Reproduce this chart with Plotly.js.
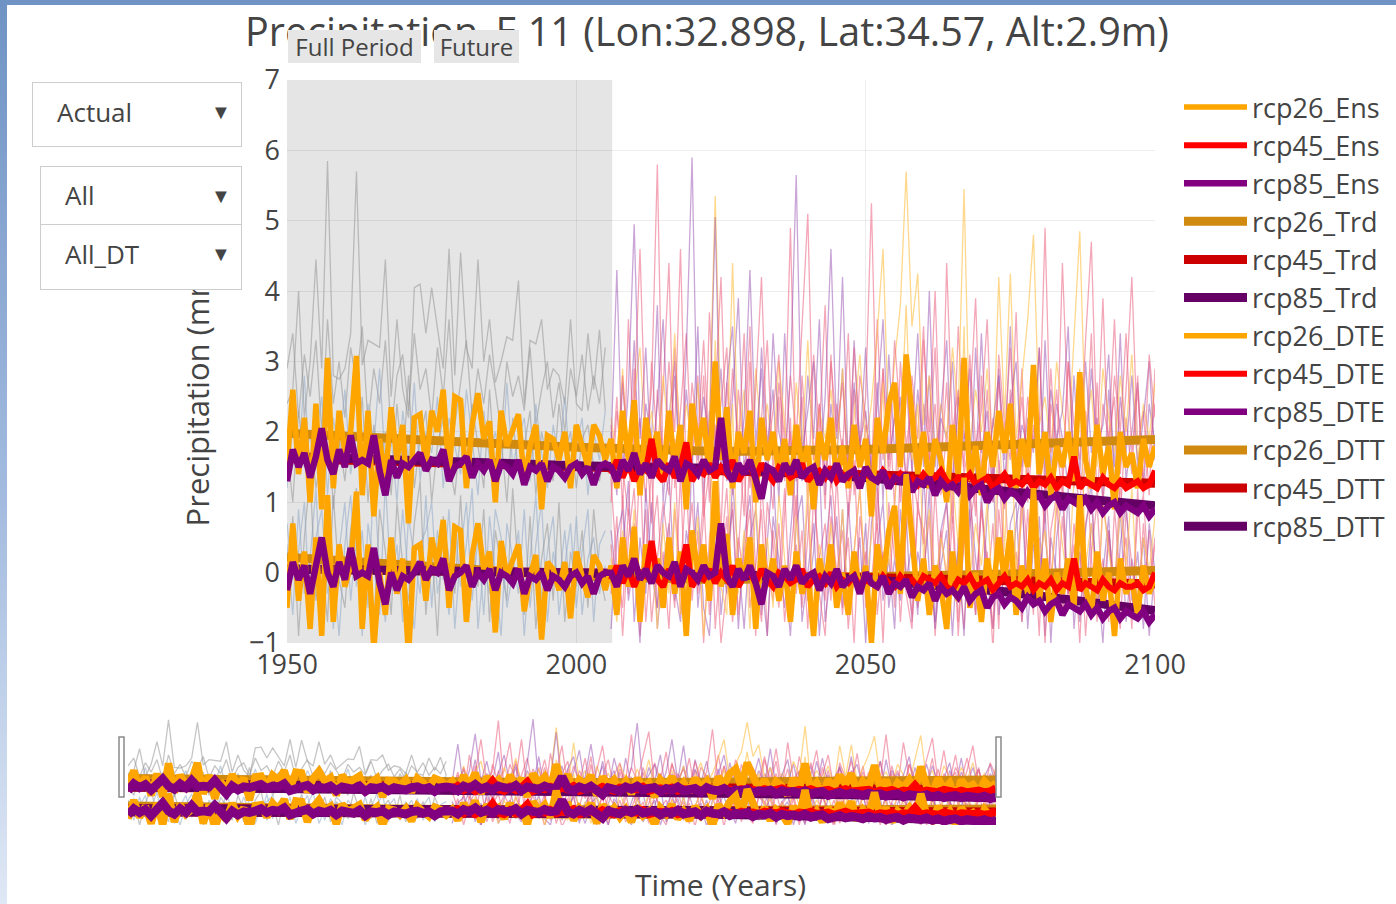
<!DOCTYPE html>
<html><head><meta charset="utf-8">
<script src="https://cdn.plot.ly/plotly-3.0.1.min.js"></script>
<style>
html,body{margin:0;padding:0;width:1396px;height:904px;overflow:hidden;}
body{background:linear-gradient(to bottom,#6f93c4 0%,#a3bbdf 55%,#dfe8f5 100%);position:relative;}
#chart{position:absolute;left:7px;top:5px;width:1405px;height:899px;background:#fff;}
</style></head><body><div id="chart"></div>
<script>
// ---------- years ----------
function seq(a,b){const r=[];for(let v=a;v<=b;v++)r.push(v);return r;}
const yearsHist = seq(1950, 2005);
const yearsFut  = seq(2006, 2100);
const yearsAll  = yearsHist.concat(yearsFut);
const trendYears = [1950, 1975, 2000, 2025, 2050, 2075, 2100];

// ---------- thick ensemble series (upper, actual) ----------
const ens26Hist = [1.5,2.6,1.4,2.2,1.0,2.4,0.9,3.05,1.2,2.3, 1.7,2.0,3.08,1.1,2.3,0.8,1.9,1.3,2.35,1.6,
  2.1,0.7,2.2,2.25,1.5,2.3,2.0,2.6,1.4,2.5, 2.45,1.2,2.1,2.55,1.9,2.15,1.0,2.3,1.8,2.0,
  2.25,1.3,1.8,2.1,0.9,1.95,1.9,1.6,2.0,1.2, 2.1,1.8,1.5,2.1,1.95,1.6];
const ens26Fut = [1.9,1.2,2.3,1.6,2.45,1.1,2.2,1.7,2.0,1.3, 2.3,1.5,2.1,0.9,2.4,1.8,2.2,1.4,3.0,1.6,
  2.35,1.2,2.0,1.7,2.3,1.0,2.2,1.6,2.0,1.4, 1.9,1.1,2.1,1.5,1.8,0.9,2.0,1.6,2.2,1.3,
  1.8,1.2,2.1,1.5,1.9,0.8,2.2,1.7,2.4,2.7, 1.5,3.1,2.3,1.4,2.0,1.2,1.9,1.6,1.0,2.1,
  1.4,3.05,1.3,1.8,1.1,2.0,1.5,2.3,1.7,2.4, 1.2,1.9,1.5,2.95,1.4,2.0,1.1,1.8,1.5,2.0,
  1.3,2.85,1.6,1.2,2.1,1.4,1.8,0.9,2.0,1.5, 1.7,1.2,1.9,1.5,1.8];
const ens45Fut = [1.4,1.6,1.35,1.55,1.3,1.5,1.45,1.9,1.4,1.3, 1.55,1.35,1.5,1.85,1.3,1.45,1.4,1.55,1.35,1.5,
  1.4,1.6,1.3,1.45,1.5,1.35,1.55,1.4,1.3,1.5, 1.45,1.35,1.4,1.55,1.3,1.4,1.45,1.35,1.5,1.3,
  1.4,1.35,1.45,1.3,1.4,1.35,1.3,1.45,1.35,1.3, 1.4,1.3,1.35,1.25,1.4,1.3,1.35,1.45,1.3,1.25,
  1.35,1.3,1.4,1.25,1.3,1.35,1.2,1.3,1.4,1.25, 1.3,1.25,1.35,1.2,1.3,1.25,1.35,1.2,1.3,1.25,
  1.65,1.2,1.3,1.25,1.2,1.35,1.25,1.2,1.3,1.2, 1.25,1.3,1.2,1.25,1.45];
const ens85Hist = [1.3,1.75,1.5,1.7,1.35,1.65,2.05,1.6,1.4,1.75, 1.5,1.95,1.55,1.6,1.55,1.95,1.45,1.1,1.6,1.35,
  1.55,1.5,1.6,1.7,1.45,1.6,1.55,1.75,1.3,1.5, 1.55,1.65,1.35,1.55,1.45,1.6,1.3,1.55,1.5,1.4,
  1.6,1.25,1.5,1.45,1.55,1.3,1.5,1.45,1.35,1.5, 1.55,1.4,1.5,1.25,1.5,1.55];
const ens85Fut = [1.5,1.3,1.6,1.45,1.7,1.4,1.55,1.35,1.6,1.5, 1.45,1.65,1.3,1.55,1.5,1.4,1.6,1.45,1.5,2.2,
  1.45,1.3,1.55,1.4,1.6,1.35,1.05,1.5,1.45,1.3, 1.55,1.4,1.6,1.35,1.45,1.5,1.25,1.45,1.35,1.55,
  1.3,1.4,1.45,1.2,1.5,1.35,1.3,1.45,1.2,1.35, 1.3,1.4,1.15,1.3,1.25,1.35,1.1,1.3,1.2,1.25,
  1.15,1.3,1.1,1.2,1.25,1.0,1.15,1.2,1.05,1.15, 1.1,1.0,1.15,1.05,1.1,0.95,1.05,1.1,0.9,1.05,
  1.0,0.95,1.05,0.9,1.0,0.85,0.95,1.0,0.85,0.95, 0.9,0.85,0.95,0.8,0.9];

// ---------- trends ----------
const trd26 = [1.98, 1.87, 1.78, 1.72, 1.75, 1.82, 1.89];
const trd45 = [1.62, 1.57, 1.52, 1.47, 1.39, 1.33, 1.27];
const trd85 = [1.65, 1.58, 1.52, 1.48, 1.35, 1.15, 0.95];
const dtt26 = [0.22, 0.08, -0.05, -0.10, -0.07, -0.02, 0.03];
const dtt45 = [0.05, 0.03, 0.00, -0.03, -0.07, -0.11, -0.16];
const dtt85 = [0.05, 0.03, 0.00, -0.03, -0.09, -0.28, -0.54];

// ---------- detrended ensemble series (lower) ----------
const dte26Hist = [-0.5,0.7,-0.4,0.3,-0.8,0.5,-0.9,1.1,-0.7,0.4, -0.2,0.1,1.15,-0.8,0.4,-1.1,0.0,-0.6,0.5,-0.3,
  0.2,-1.2,0.35,0.4,-0.4,0.5,0.1,0.75,-0.5,0.65, 0.6,-0.7,0.25,0.7,0.05,0.3,-0.85,0.45,-0.05,0.15,
  0.4,-0.55,-0.05,0.25,-0.95,0.15,0.05,-0.25,0.15,-0.65, 0.3,-0.05,-0.35,0.25,0.1,-0.25];
const dte26Fut = [0.1,-0.6,0.5,-0.2,0.65,-0.7,0.4,-0.1,0.2,-0.5, 0.5,-0.3,0.3,-0.9,0.6,0.0,0.4,-0.4,1.3,-0.2,
  0.55,-0.6,0.2,-0.1,0.5,-0.8,0.4,-0.2,0.2,-0.4, 0.1,-0.7,0.3,-0.3,0.0,-0.9,0.2,-0.2,0.4,-0.5,
  0.0,-0.6,0.3,-0.3,0.1,-1.0,0.4,-0.1,0.6,0.95, -0.3,1.4,0.5,-0.4,0.2,-0.6,0.1,-0.2,-0.8,0.3,
  -0.4,1.35,-0.5,0.0,-0.7,0.2,-0.3,0.5,-0.1,0.6, -0.6,0.1,-0.3,1.2,-0.4,0.2,-0.7,0.0,-0.3,0.2,
  -0.5,1.1,-0.2,-0.6,0.3,-0.4,0.0,-0.9,0.2,-0.3, -0.1,-0.6,0.1,-0.3,-0.05];
const dte45Fut = [-0.1,0.1,-0.15,0.05,-0.2,0.0,-0.05,0.45,-0.1,-0.2, 0.05,-0.15,0.0,0.4,-0.2,-0.05,-0.1,0.05,-0.15,0.0,
  -0.1,0.1,-0.2,-0.05,0.0,-0.15,0.05,-0.1,-0.2,0.0, -0.05,-0.15,-0.1,0.05,-0.2,-0.1,-0.05,-0.15,0.0,-0.2,
  -0.1,-0.15,-0.05,-0.2,-0.1,-0.15,-0.2,-0.05,-0.15,-0.2, -0.05,-0.15,-0.1,-0.2,-0.05,-0.1,-0.15,-0.05,-0.2,-0.25,
  -0.1,-0.15,-0.05,-0.2,-0.15,-0.1,-0.25,-0.15,-0.05,-0.2, -0.15,-0.2,-0.1,-0.25,-0.15,-0.2,-0.1,-0.25,-0.15,-0.2,
  0.2,-0.25,-0.15,-0.2,-0.25,-0.1,-0.2,-0.25,-0.15,-0.2, -0.2,-0.15,-0.25,-0.2,0.0];
const dte85Hist = [-0.25,0.15,-0.1,0.1,-0.3,0.05,0.5,0.0,-0.2,0.15, -0.1,0.35,-0.05,0.0,-0.05,0.35,-0.15,-0.45,0.0,-0.25,
  -0.05,-0.1,0.0,0.15,-0.1,0.05,0.0,0.2,-0.25,-0.05, 0.0,0.1,-0.2,0.0,-0.1,0.05,-0.25,0.0,-0.05,-0.15,
  0.05,-0.3,-0.05,-0.1,0.0,-0.25,-0.05,-0.1,-0.2,-0.05, 0.0,-0.15,-0.05,-0.3,-0.05,0.0];
const dte85Fut = [0.0,-0.2,0.1,-0.05,0.2,-0.1,0.05,-0.15,0.1,0.0, -0.05,0.15,-0.2,0.05,0.0,-0.1,0.1,-0.05,0.0,0.7,
  -0.05,-0.2,0.05,-0.1,0.1,-0.15,-0.45,0.0,-0.05,-0.2, 0.05,-0.1,0.1,-0.15,-0.05,0.0,-0.25,-0.05,-0.15,0.05,
  -0.2,-0.1,-0.05,-0.3,0.0,-0.15,-0.2,-0.05,-0.3,-0.15, -0.2,-0.1,-0.35,-0.2,-0.25,-0.15,-0.4,-0.2,-0.3,-0.25,
  -0.35,-0.2,-0.4,-0.3,-0.25,-0.5,-0.35,-0.3,-0.45,-0.35, -0.4,-0.5,-0.35,-0.45,-0.4,-0.55,-0.45,-0.4,-0.6,-0.45,
  -0.5,-0.55,-0.45,-0.6,-0.5,-0.65,-0.55,-0.5,-0.65,-0.55, -0.6,-0.65,-0.55,-0.7,-0.6];

// ---------- thin model runs, historical ----------
const histRunA = [2.4,2.6,4.0,2.2,3.0,4.45,2.9,5.85,2.8,2.75, 2.9,3.4,5.7,2.95,3.3,3.25,3.2,4.45,2.5,3.6,
  2.6,2.2,4.05,4.1,3.4,4.05,3.5,2.9,4.6,2.8, 4.55,3.2,2.9,4.45,3.0,3.6,2.7,3.0,3.35,3.3,
  4.15,2.4,3.3,3.25,3.6,2.6,2.9,2.8,2.4,3.6, 2.4,2.3,3.4,2.6,3.45,2.3];
const histRunB = [1.2,2.1,1.6,2.8,1.3,1.9,2.5,1.1,2.2,1.7, 2.6,1.4,2.0,1.2,2.4,1.8,2.9,1.5,1.9,1.0,
  2.3,1.6,2.7,1.3,2.0,1.7,2.5,1.2,2.2,1.8, 1.4,2.6,1.9,1.1,2.3,1.6,2.0,1.4,2.7,1.5,
  1.9,2.2,1.3,2.4,1.7,1.2,2.1,1.6,2.5,1.4, 1.8,2.2,1.1,2.0,1.6,2.3];
const histRunC = [1.8,1.0,2.3,1.5,2.0,1.2,1.7,2.6,0.9,1.9, 1.3,2.2,1.6,2.5,1.0,2.1,1.4,2.0,1.1,2.4,
  1.5,2.8,1.2,1.9,2.3,1.0,1.8,2.2,1.6,1.1, 2.0,1.5,2.4,1.8,1.2,2.6,1.4,1.9,1.0,2.2,
  1.4,1.8,2.3,1.1,2.0,1.6,1.3,2.4,1.7,2.0, 1.2,1.9,2.1,1.5,1.3,1.8];
const histRunD = [2.9,3.4,2.2,3.1,2.5,3.3,2.0,3.6,2.4,3.0, 2.2,3.2,2.7,3.5,2.1,2.9,2.4,3.3,2.0,2.8,
  3.1,2.3,3.4,2.6,2.9,2.2,3.2,2.5,3.6,2.1, 2.7,3.3,2.2,2.9,2.4,3.1,2.6,2.0,3.0,2.5,
  2.8,2.3,3.2,2.1,2.6,3.0,2.2,2.7,2.0,2.9, 2.5,3.1,2.3,2.8,2.4,3.2];
const histDtA = [0.4,-0.6,0.9,-0.3,0.2,1.2,-0.5,0.6,-0.8,0.3, 1.0,-0.4,0.5,-0.9,0.7,0.1,-0.6,1.3,-0.2,0.4,
  -0.7,0.8,0.2,-0.3,1.1,-0.5,0.6,-0.1,0.9,-0.8, 0.3,1.0,-0.4,0.5,-0.6,0.8,0.0,-0.9,0.7,0.2,
  -0.3,0.9,-0.5,0.4,1.0,-0.7,0.3,-0.2,0.6,-0.4, 0.8,-0.6,0.2,0.5,-0.3,0.1];
const histDtB = [-0.2,0.8,-0.9,0.5,1.4,-0.4,0.2,-0.7,1.1,-0.1, -0.5,0.6,1.2,-0.3,0.0,-0.8,0.9,0.3,-0.6,1.0,
  0.1,-0.4,0.7,1.3,-0.6,0.4,-0.9,0.8,0.2,-0.3, 1.1,-0.5,0.3,-0.2,0.9,-0.7,0.6,0.1,-0.4,1.2,
  0.0,-0.6,0.8,-0.8,0.2,0.7,-0.4,1.0,-0.7,0.3, -0.2,0.6,-0.5,0.9,0.0,-0.4];
const histDtC = [0.7,-0.1,0.3,1.0,-0.6,0.5,0.9,-0.3,0.1,-0.9, 0.4,1.1,-0.2,0.6,-0.5,1.4,0.0,-0.7,0.5,-0.2,
  0.9,-0.1,-0.8,0.4,0.6,1.0,-0.3,0.2,-0.6,0.7, -0.2,0.4,1.2,-0.8,0.1,-0.3,0.9,0.5,-0.5,0.0,
  0.6,-0.9,0.2,1.1,-0.4,0.3,0.8,-0.6,0.1,0.7, -0.5,0.3,0.9,-0.7,0.4,0.6];

// ---------- thin model runs, future ----------
const run45A = [2.1,1.2,2.8,1.5,2.4,4.6,1.8,2.6,5.8,1.4, 3.0,2.0,4.6,1.3,2.7,1.9,3.3,1.6,2.5,4.2,
  1.5,2.9,1.8,3.4,1.2,2.6,4.2,1.7,2.3,3.1, 1.4,2.8,1.9,3.6,5.1,1.6,2.4,1.3,3.0,2.0,
  2.7,1.4,3.2,1.8,2.5,5.25,1.7,2.9,1.5,3.3, 2.2,1.3,2.8,1.9,3.5,1.6,2.4,1.2,4.4,2.0,
  2.6,1.5,3.1,1.8,2.3,3.6,1.4,2.7,1.9,3.2, 1.6,2.5,1.3,2.9,2.0,4.9,1.7,2.6,1.4,3.0,
  2.1,1.6,3.3,4.7,1.8,3.9,1.5,2.8,2.0,3.4, 1.7,2.6,1.3,3.1,2.2];
const run45B = [1.3,2.5,0.9,3.6,1.6,2.2,1.0,3.0,1.8,2.6, 4.4,1.2,2.3,3.4,1.5,2.8,0.8,3.7,1.9,2.4,
  3.2,1.1,2.6,1.7,3.5,0.9,2.2,3.3,1.4,2.7, 1.9,4.9,1.3,2.5,1.0,3.1,2.0,3.8,1.2,2.4,
  1.7,3.4,1.1,2.8,2.2,1.4,3.6,1.6,2.5,0.9, 3.0,1.8,2.4,1.2,3.3,2.0,4.0,1.5,2.7,1.1,
  3.5,1.9,2.3,3.9,1.4,2.6,1.0,3.1,2.1,1.6, 3.7,1.3,2.5,1.8,3.2,1.1,2.9,1.5,4.4,2.2,
  1.2,2.8,1.7,3.4,1.0,2.4,1.9,3.6,1.4,2.6, 4.2,1.8,2.3,1.1,2.9];
const run85A = [1.8,4.3,1.4,2.6,4.95,1.9,3.2,1.5,2.4,3.6, 1.7,2.8,1.3,3.1,5.9,1.6,2.5,1.9,5.05,1.4,
  2.7,3.5,1.5,2.2,4.3,1.8,2.9,1.3,3.4,2.0, 1.6,2.8,5.65,1.7,2.3,3.0,1.4,2.5,4.6,1.9,
  4.2,1.5,2.7,1.8,3.2,1.3,2.4,3.6,1.6,2.2, 1.9,3.1,1.4,2.6,1.7,4.0,1.5,2.3,3.3,1.2,
  2.5,1.8,2.9,1.4,3.4,1.6,2.1,2.8,1.3,2.4, 3.0,1.5,2.2,1.7,3.2,1.4,2.6,1.9,2.3,3.5,
  1.3,2.4,1.6,2.9,1.8,2.1,3.1,1.2,2.5,1.7, 2.8,1.5,2.2,3.0,1.6];
const run85B = [2.0,1.1,2.7,1.6,3.3,1.2,2.4,1.9,3.8,1.0, 2.2,3.0,1.4,2.6,1.7,3.5,1.1,2.3,1.8,2.9,
  1.3,2.5,3.9,1.5,2.0,1.2,3.2,1.8,2.6,1.0, 3.4,1.7,2.1,1.3,2.8,1.9,3.6,1.1,2.4,1.6,
  2.9,1.2,3.3,1.8,2.3,1.4,2.7,1.0,3.1,1.7, 2.5,1.3,2.0,3.4,1.5,2.8,1.1,2.2,1.9,3.0,
  1.4,2.6,1.2,3.2,1.7,2.3,1.0,2.9,1.6,3.5, 1.3,2.1,1.8,2.7,1.1,3.3,1.5,2.4,1.9,1.2,
  2.8,1.4,3.0,1.7,2.2,1.0,2.6,1.5,3.4,1.3, 2.0,2.7,1.2,2.4,1.8];
const run85C = [1.0,2.3,1.5,0.8,2.9,1.3,2.0,0.7,2.6,1.6, 1.1,3.2,1.8,0.9,2.4,1.4,2.8,1.0,2.1,0.6,
  2.7,1.5,1.9,0.8,3.0,1.2,2.2,1.7,0.9,2.5, 1.3,2.0,0.7,2.8,1.6,1.1,2.4,0.9,3.1,1.4,
  1.9,0.8,2.6,1.2,2.1,1.7,0.6,2.9,1.3,2.3, 1.0,2.7,1.5,0.9,2.4,1.8,3.2,1.1,2.0,0.7,
  2.5,1.4,1.9,0.8,2.8,1.2,2.2,1.6,0.9,2.6, 1.3,2.9,1.0,2.1,1.5,0.7,2.4,1.8,1.1,3.0,
  1.6,0.9,2.3,1.2,2.7,1.0,1.9,2.5,0.8,2.2, 1.4,2.8,1.1,1.7,2.4];
const run26A = [2.2,1.6,2.9,1.4,2.5,3.2,1.7,2.3,1.5,2.8, 1.9,3.4,1.6,2.4,1.8,2.7,1.4,2.2,5.35,2.0,
  1.5,4.4,1.8,2.6,1.3,2.9,1.9,2.4,1.6,3.0, 2.1,1.4,2.7,1.8,3.3,1.5,2.3,1.9,2.6,1.7,
  2.9,1.6,2.2,3.1,1.8,2.4,3.4,4.6,2.0,3.0, 3.8,5.7,3.5,4.25,2.1,2.8,1.7,2.4,1.9,3.2,
  2.3,5.45,1.8,2.6,2.0,2.9,1.6,4.2,2.2,4.25, 1.9,2.7,3.6,4.8,2.1,2.5,1.7,3.0,2.3,1.8,
  3.3,4.85,2.0,2.6,1.5,2.9,2.2,1.7,2.8,2.0, 3.1,1.6,2.4,1.9,2.7];
const dt45A = [0.4,-0.6,1.1,-0.3,0.7,-0.9,0.2,1.5,-0.5,0.3, -0.8,0.9,0.0,1.3,-0.4,0.6,-1.0,0.5,1.0,-0.2,
  0.8,-0.7,0.3,1.6,-0.5,0.1,0.9,-0.9,0.6,-0.1, 1.2,-0.6,0.4,-0.3,1.0,-0.8,0.2,0.7,-0.4,1.4,
  -0.2,0.5,-1.0,0.8,0.1,1.1,-0.6,0.3,-0.3,0.9, -0.7,0.6,1.3,-0.5,0.0,0.8,-0.9,0.4,1.0,-0.3,
  0.2,-0.8,0.7,1.2,-0.4,0.3,-1.1,0.9,0.0,0.5, -0.6,1.0,-0.2,0.6,-0.9,1.4,0.1,-0.5,0.8,-0.3,
  0.4,-1.0,0.7,1.1,-0.4,0.2,-0.7,0.9,-0.1,0.5, -0.8,1.2,-0.3,0.6,-0.5];
const dt45B = [-0.3,0.8,-0.9,0.5,1.2,-0.4,0.9,-0.7,0.2,1.0, 0.3,-0.5,1.4,-0.8,0.6,0.0,1.1,-0.6,0.4,-1.0,
  -0.2,1.0,-0.6,0.3,0.9,-0.9,1.3,0.1,-0.4,0.7, -0.7,0.2,1.1,-0.5,0.5,1.5,-0.3,-0.9,0.8,0.0,
  0.6,-0.8,0.3,1.2,-0.5,-0.1,0.7,-1.0,1.0,0.2, 0.4,-0.3,-0.8,0.9,0.6,-0.6,1.2,-0.2,-0.5,0.8,
  -0.9,0.5,0.1,-0.6,1.0,-0.3,0.7,-0.8,1.3,-0.2, 0.3,-0.7,0.9,-0.4,0.5,-1.0,0.6,1.1,-0.6,0.2,
  -0.4,0.8,-0.9,0.3,1.0,-0.5,0.6,-0.2,-0.8,0.9, 0.1,-0.6,0.7,-0.3,0.4];
const dt45C = [1.3,0.1,-0.5,0.9,-0.2,1.6,-0.7,0.4,1.1,-0.4, 0.6,1.9,-0.6,0.2,1.0,-0.3,0.8,1.5,-0.8,0.3,
  1.2,-0.4,0.5,-0.1,1.7,0.0,-0.7,1.0,0.4,-0.5, 0.9,2.2,-0.3,0.6,-0.8,1.1,0.2,-0.4,1.4,0.5,
  -0.6,0.8,1.6,-0.2,0.3,-0.9,1.2,0.1,0.7,-0.5, 1.5,0.0,-0.6,1.0,0.4,1.8,-0.4,0.6,-0.1,1.1,
  -0.7,0.5,1.3,-0.3,0.9,0.2,-0.8,1.6,0.0,0.6, -0.4,1.2,0.3,-0.6,1.7,0.5,-0.2,0.9,1.4,-0.5,
  0.7,-0.1,1.9,0.2,-0.7,1.0,0.4,-0.3,1.3,0.0, -0.6,0.8,1.1,-0.2,0.5];
const dt85A = [0.6,-0.2,0.3,1.3,-0.7,0.5,-0.3,1.0,-0.8,0.1, 0.7,-0.4,0.2,-0.9,1.8,-0.5,0.4,-0.1,1.2,-0.6,
  0.3,0.9,-0.8,0.5,1.1,-0.4,-0.1,-0.9,0.8,0.2, -0.5,0.6,1.6,-0.7,0.0,0.7,-0.9,0.3,1.1,-0.4,
  0.9,-0.6,0.1,-0.3,0.7,-1.0,0.4,1.0,-0.5,0.2, -0.4,0.8,-0.7,0.3,-0.2,1.2,-0.8,0.1,0.6,-0.9,
  0.5,-0.3,0.9,-0.6,1.1,-0.1,-0.8,0.4,-0.5,0.7, 1.0,-0.7,0.2,-0.4,0.8,-0.9,0.5,0.0,-0.6,1.2,
  -0.8,0.3,-0.5,0.7,0.0,-1.0,0.6,-0.3,0.9,-0.7, 0.2,-0.4,0.5,-0.9,0.1];
const dt85B = [-0.8,0.5,0.9,-0.4,0.2,-1.0,1.2,0.0,-0.5,0.8, 1.4,-0.2,-0.7,0.6,0.1,1.0,-0.5,-0.9,0.7,0.3,
  -0.3,1.3,0.2,-0.8,0.5,0.9,-0.6,0.4,1.5,-0.2, 0.0,-0.9,0.7,1.1,-0.4,0.3,1.6,-0.7,0.1,0.8,
  -0.5,1.0,-0.2,0.5,-1.0,0.7,1.3,-0.4,0.2,-0.8, 0.9,-0.1,0.4,-0.6,1.4,0.0,-0.7,0.6,1.0,-0.3,
  0.3,-0.9,1.1,0.2,-0.5,0.8,1.5,-0.6,0.1,-0.4, 0.7,1.2,-0.8,0.4,-0.2,0.9,-1.0,0.5,1.1,-0.3,
  0.2,-0.7,0.6,1.3,-0.5,0.0,0.8,-0.9,0.4,1.0, -0.4,0.3,-0.8,0.7,0.0];
const dt26A = [0.2,-0.7,0.6,-0.2,0.9,-0.5,0.0,0.4,-0.8,0.7, -0.3,1.0,-0.6,0.3,-0.1,0.8,-0.9,0.2,3.3,-0.2,
  -0.6,2.4,-0.3,0.6,-0.8,1.0,-0.1,0.5,-0.5,1.1, 0.2,-0.7,0.8,-0.3,1.3,-0.6,0.4,0.0,0.7,-0.4,
  0.9,-0.5,0.3,1.2,-0.2,0.5,1.5,2.7,0.1,1.0, 1.9,3.8,1.6,2.4,0.2,0.9,-0.3,0.5,0.0,1.3,
  0.4,3.5,-0.1,0.7,0.1,1.0,-0.4,2.3,0.3,2.4, 0.0,0.8,1.7,2.9,0.2,0.6,-0.3,1.1,0.4,-0.2,
  1.4,2.9,0.1,0.7,-0.5,1.0,0.3,-0.2,0.9,0.1, 1.2,-0.4,0.5,0.0,0.8];

// ---------- legend names / colours ----------
const legendNames = ['rcp26_Ens','rcp45_Ens','rcp85_Ens','rcp26_Trd','rcp45_Trd','rcp85_Trd',
                     'rcp26_DTE','rcp45_DTE','rcp85_DTE','rcp26_DTT','rcp45_DTT','rcp85_DTT'];
const C26='#FFA500', C45='#FF0000', C85='#800080';
const T26='#D08A10', T45='#CC0000', T85='#650065';
const GRAY='rgba(150,150,150,0.55)', BLUEGRAY='rgba(145,170,200,0.55)';
const PINK='rgba(235,95,125,0.55)', LPURP='rgba(150,75,175,0.5)', YEL='rgba(255,195,80,0.65)';

const traces=[];
function add(x,y,color,width,name,rank){
  const base={type:'scatter',mode:'lines',x:x,y:y,hoverinfo:'skip'};
  traces.push(Object.assign({},base,{line:{color:color,width:width},xaxis:'x',yaxis:'y',
    showlegend:!!name,name:name||'',legendrank:rank||1000}));
  const mw = width>3 ? width*1.35 : width;
  traces.push(Object.assign({},base,{line:{color:color,width:mw},xaxis:'x2',yaxis:'y2',showlegend:false}));
}
const TW=1.3;
// thin lines
add(yearsHist,histRunD,GRAY,TW); add(yearsHist,histRunB,BLUEGRAY,TW); add(yearsHist,histRunC,GRAY,TW);
add(yearsHist,histRunA,GRAY,TW);
add(yearsHist,histDtA,BLUEGRAY,TW); add(yearsHist,histDtB,GRAY,TW); add(yearsHist,histDtC,BLUEGRAY,TW);
add(yearsFut,run85B,LPURP,TW); add(yearsFut,run85C,PINK,TW); add(yearsFut,run45B,PINK,TW); add(yearsFut,run26A,YEL,TW);
add(yearsFut,run85A,LPURP,TW); add(yearsFut,run45A,PINK,TW);
add(yearsFut,dt45A,PINK,TW); add(yearsFut,dt85A,LPURP,TW); add(yearsFut,dt45B,PINK,TW);
add(yearsFut,dt85B,LPURP,TW); add(yearsFut,dt45C,PINK,TW); add(yearsFut,dt26A,YEL,TW);
// trends
add(trendYears,trd26,T26,9,legendNames[3],4);
add(trendYears,trd45,T45,9,legendNames[4],5);
add(trendYears,trd85,T85,9,legendNames[5],6);
add(trendYears,dtt26,T26,9,legendNames[9],10);
add(trendYears,dtt45,T45,9,legendNames[10],11);
add(trendYears,dtt85,T85,9,legendNames[11],12);
// ensembles
add(yearsAll,ens26Hist.concat(ens26Fut),C26,5.5,legendNames[0],1);
add(yearsFut,ens45Fut,C45,6,legendNames[1],2);
add(yearsAll,ens85Hist.concat(ens85Fut),C85,6.5,legendNames[2],3);
add(yearsAll,dte26Hist.concat(dte26Fut),C26,5.5,legendNames[6],7);
add(yearsFut,dte45Fut,C45,6,legendNames[7],8);
add(yearsAll,dte85Hist.concat(dte85Fut),C85,6.5,legendNames[8],9);

// ---------- layout helpers (plot area spans 128..1155 x, 80..825 y in page px) ----------
const px=v=>(v-128)/1027, py=v=>(825-v)/745;
const TXT='#444';
function box(x0,x1,y0,y1){
  return {xref:'paper',yref:'paper',x:px((x0+x1)/2),y:py((y0+y1)/2),xanchor:'center',yanchor:'middle',
    text:'\u00a0',showarrow:false,width:x1-x0-2,height:y1-y0-2,borderpad:0,borderwidth:1,
    bordercolor:'#cdcdcd',bgcolor:'#ffffff'};
}
function label(t,x,y,size,anchor){
  return {xref:'paper',yref:'paper',x:px(x),y:py(y),xanchor:anchor||'left',yanchor:'middle',text:t,
    showarrow:false,font:{size:size,color:TXT}};
}
const annotations=[
  Object.assign(box(287,422,29,64),{text:'Full Period',font:{size:24,color:TXT},bgcolor:'#e6e6e6',borderwidth:0}),
  Object.assign(box(433,520,29,64),{text:'Future',font:{size:24,color:TXT},bgcolor:'#e6e6e6',borderwidth:0}),
  box(32,242,82,147), box(40,242,166,225), box(40,242,224,290),
  label('Actual',55,112,26), label('All',63,195,26), label('All_DT',63,254,26),
  label('\u25BC',221,111,20,'center'), label('\u25BC',221,195,20,'center'), label('\u25BC',221,253,20,'center'),
  label('Time (Years)',720,885,30,'center')
];
const shapes=[
  {type:'rect',xref:'x',yref:'y domain',x0:1950,x1:2006.2,y0:0,y1:1,fillcolor:'#e5e5e5',line:{width:0},layer:'below'},
  {type:'rect',xref:'paper',yref:'paper',x0:px(119),x1:px(124),y0:py(797),y1:py(737),fillcolor:'#fff',line:{color:'#8a8a8a',width:1.5}},
  {type:'rect',xref:'paper',yref:'paper',x0:px(996),x1:px(1001),y0:py(797),y1:py(737),fillcolor:'#fff',line:{color:'#8a8a8a',width:1.5}}
];
const layout={
  width:1405,height:899,margin:{l:121,r:257,t:75,b:79},
  paper_bgcolor:'#fff',plot_bgcolor:'#fff',
  font:{family:'"Open Sans", verdana, arial, sans-serif',color:TXT},
  title:{text:'Precipitation_E 11 (Lon:32.898, Lat:34.57, Alt:2.9m)',font:{size:39.5,color:TXT},
    x:700/1405,xref:'container',y:1-27/899,yref:'container',yanchor:'middle'},
  xaxis:{domain:[px(287),1],anchor:'y',range:[1950,2100],tickvals:[1950,2000,2050,2100],
    showgrid:true,gridcolor:'rgba(0,0,0,0.07)',zeroline:false,showline:false,
    ticks:'',ticklabelstandoff:3,tickfont:{size:27,color:TXT}},
  yaxis:{domain:[py(643),1],anchor:'x',range:[-1,7],dtick:1,showgrid:true,gridcolor:'rgba(0,0,0,0.07)',
    zeroline:false,showline:false,ticks:'',ticklabelstandoff:6,tickfont:{size:27,color:TXT},
    title:{text:'Precipitation (mm/day)',font:{size:31,color:TXT},standoff:30}},
  xaxis2:{domain:[0,px(996)],anchor:'y2',range:[1950,2100],visible:false},
  yaxis2:{domain:[0,py(716)],anchor:'x2',range:[-0.9,6.1],visible:false},
  showlegend:true,
  legend:{x:px(1179),y:py(83),xanchor:'left',yanchor:'top',font:{size:27,color:TXT},itemwidth:63,
    bgcolor:'rgba(0,0,0,0)',tracegroupgap:0},
  shapes:shapes,annotations:annotations
};
Plotly.newPlot('chart',traces,layout,{displayModeBar:false,staticPlot:true});
</script></body></html>
